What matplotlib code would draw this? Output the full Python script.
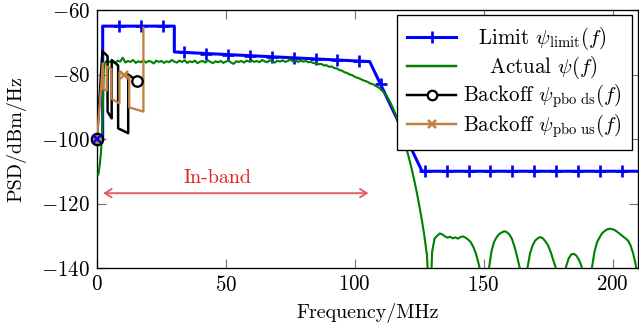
import numpy as np
import matplotlib
matplotlib.use("Agg")
import matplotlib.pyplot as plt
from matplotlib.lines import Line2D
from matplotlib.patches import FancyArrowPatch

plt.rcParams['font.family'] = 'serif'
plt.rcParams['font.serif'] = ['cmr10']
plt.rcParams['mathtext.fontset'] = 'cm'
plt.rcParams['axes.formatter.use_mathtext'] = True
plt.rcParams['font.size'] = 10.5

# ---------------- data ----------------
# Limit mask breakpoints (MHz, dBm/Hz)
limit_freq = [0.0, 2.2, 2.2, 30.0, 30.0, 105.8, 126.1, 212.0]
limit_psd = [-100.0, -100.0, -65.0, -65.0, -73.0, -76.0, -110.0, -110.0]
# Limit marker positions
limit_mark_freq = [0.0, 8.48, 16.96, 25.44, 33.92, 42.4, 50.88, 59.36, 67.84, 76.32,
                   84.8, 93.28, 101.76, 110.24, 118.72, 127.2, 135.68, 144.16, 152.64,
                   161.12, 169.6, 178.08, 186.56, 195.04, 203.52]
limit_mark_psd = [-100.0, -65.0, -65.0, -65.0, -73.15, -73.5, -73.8, -74.15, -74.5, -74.8,
                  -75.15, -75.5, -75.85, -83.1, -97.5, -110.0, -110.0, -110.0, -110.0,
                  -110.0, -110.0, -110.0, -110.0, -110.0, -110.0]

# Actual PSD
actual_freq = [0.5, 1.0, 1.5, 2.0, 2.3, 2.6,
               3, 4, 5, 6, 7, 8, 9, 10, 11, 12, 13, 14, 15, 16, 17, 18, 19, 20,
               21, 22, 23, 24, 25, 26, 27, 28, 29, 30, 31, 32, 33, 34, 35, 36, 37, 38,
               39, 40, 41, 42, 43, 44, 45, 46, 47, 48, 49, 50, 51, 52, 53, 54, 55, 56,
               57, 58, 59, 60, 61, 62, 63, 64, 65, 66, 67, 68, 69, 70, 71, 72, 73, 74,
               75, 76, 77, 78, 79, 80, 81, 82, 83, 84, 85, 86, 87, 88, 89, 90, 91, 92,
               93, 94, 95, 96, 97, 98, 99, 100, 101, 102, 103, 104, 105, 106, 107, 108,
               109, 110, 111, 112, 113, 114, 115, 116, 117, 118, 119, 120, 121, 122,
               123, 124, 125, 126, 127, 128, 129.2,
               130, 131, 132, 133, 134, 135, 136, 137, 138, 139, 140, 141, 142, 143,
               144, 145, 146, 147, 148, 149, 150,
               151, 152, 153, 154, 155, 156, 157, 158, 159, 160, 161, 162, 163, 164, 165,
               167, 168, 169, 170, 171, 172, 173, 174, 175, 176, 177, 178, 179,
               181, 182, 183, 184, 185, 186, 187, 188, 189,
               191, 192, 193, 194, 195, 196, 197, 198, 199, 200, 201, 202, 203, 204,
               205, 206, 207, 208, 209, 210]
actual_psd = [-111.0, -108.5, -104.5, -98.0, -88.0, -79.0,
              -76.4, -75.6, -76.2, -75.9, -76.5, -75.7, -76.0, -74.8, -76.3, -75.8,
              -76.1, -75.5, -76.4, -75.9, -76.2, -75.6, -76.3, -75.8,
              -76.0, -76.6, -75.7, -76.1, -75.8, -76.4, -75.9, -76.2, -75.5, -76.0,
              -76.3, -75.7, -76.1, -75.6, -76.4, -75.9, -76.2, -75.7,
              -76.5, -76.0, -75.8, -76.3, -75.6, -76.1, -76.5, -75.9, -76.2, -75.8,
              -76.4, -76.0, -75.7, -76.3, -76.7, -75.9, -76.1, -75.8,
              -76.3, -75.7, -76.0, -75.6, -76.1, -75.8, -76.2, -75.5, -75.9, -76.2,
              -75.6, -75.9, -76.3, -75.7, -76.0, -75.6, -76.1, -75.8,
              -75.4, -75.9, -75.6, -76.1, -75.7, -76.0, -75.8, -76.2, -76.1, -76.5,
              -76.4, -76.8, -76.7, -77.2, -77.1, -77.6, -77.5, -78.0,
              -78.1, -78.6, -78.8, -79.3, -79.5, -80.0, -80.2, -80.7, -81.0, -81.3,
              -81.7, -82.0, -82.3, -82.8, -83.0, -83.5,
              -83.9, -84.5, -85.3, -86.3, -87.5, -89.0, -90.8, -92.8, -95.0, -97.5,
              -100.0, -102.8, -105.8, -109.0,
              -112.5, -116.3, -120.5, -125.0, -130.0, -136.0, -155.0,
              -135.0, -130.8, -130.0, -129.3, -129.6, -130.2, -130.6, -130.3, -130.8,
              -130.5, -130.9, -130.4, -130.2, -130.6,
              -131.2, -132.0, -133.5, -135.5, -138.5, -142.0, -152.0,
              -150.0, -140.5, -135.0, -132.0, -130.5, -129.5, -129.0, -128.6, -128.9,
              -129.6, -131.0, -133.5, -136.5, -140.0, -152.0,
              -140.0, -135.5, -133.0, -131.5, -130.8, -130.4, -130.8, -131.8, -133.0,
              -135.0, -137.5, -140.0, -152.0,
              -150.0, -139.5, -137.0, -135.8, -135.6, -136.2, -137.5, -139.5, -150.0,
              -150.0, -140.0, -135.0, -132.0, -130.5, -129.2, -128.5, -128.0, -127.8,
              -128.0, -128.3, -128.9, -129.5, -130.2,
              -130.8, -131.5, -133.0, -135.5, -139.0, -145.0]

# Backoff downstream
ds_freq = [0.0, 2.1, 4.1, 4.1, 5.7, 5.7, 8.2, 8.2, 12.1, 12.1, 15.6]
ds_psd = [-100.0, -72.8, -74.3, -91.5, -93.6, -75.5, -77.2, -96.7, -98.2, -80.0, -82.0]
ds_mark_freq = [0.0, 15.6]
ds_mark_psd = [-100.0, -82.0]

# Backoff upstream
us_freq = [0.0, 2.3, 2.3, 3.8, 3.8, 5.6, 5.6, 8.7, 8.7, 12.5, 12.5, 18.0, 18.0]
us_psd = [-100.0, -76.5, -84.5, -85.0, -77.5, -78.3, -87.5, -89.0, -79.3, -80.8,
          -90.2, -91.5, -65.5]
us_mark_freq = [0.0, 10.4]
us_mark_psd = [-100.0, -80.0]

x_ticks = [0, 50, 100, 150, 200]
y_ticks = [-140, -120, -100, -80, -60]

# in-band annotation
inband_start, inband_end, inband_level = 2.4, 105.3, -116.8

# ---------------- plot ----------------
BLUE = '#0000ff'
GREEN = '#008000'
BROWN = '#bf8040'
RED = '#e02020'

fig = plt.figure(figsize=(639 / 137, 329 / 137), dpi=137)
ax = fig.add_axes([97 / 639, 1 - 268 / 329, (638.3 - 97) / 639, 258 / 329])

ax.plot(limit_freq, limit_psd, color=BLUE, lw=1.6, zorder=2)
ax.plot(limit_mark_freq[1:], limit_mark_psd[1:], ls='none', marker='+', ms=6.5,
        mew=1.4, color=BLUE, zorder=2)
ax.plot(actual_freq, actual_psd, color=GREEN, lw=1.1, zorder=3)
ax.plot(ds_freq, ds_psd, color='black', lw=1.3, zorder=4)
ax.plot(ds_mark_freq[1:], ds_mark_psd[1:], ls='none', marker='o', ms=5.5, mew=1.2,
        mfc='white', mec='black', zorder=6)
ax.plot(us_freq, us_psd, color=BROWN, lw=1.2, zorder=5)
ax.plot(us_mark_freq[1:], us_mark_psd[1:], ls='none', marker='x', ms=4, mew=1.3,
        color=BROWN, zorder=6)
# overlapping start markers at origin point
ax.plot(ds_mark_freq[:1], ds_mark_psd[:1], ls='none', marker='o', ms=6, mew=1.2,
        mfc=BROWN, mec='black', zorder=7, clip_on=False)
ax.plot(limit_mark_freq[:1], limit_mark_psd[:1], ls='none', marker='x', ms=4, mew=1.2,
        color=BLUE, zorder=8, clip_on=False)

arrow = FancyArrowPatch((inband_start, inband_level), (inband_end, inband_level),
                        arrowstyle='<->,head_length=0.35,head_width=0.22',
                        mutation_scale=10, color='#e06060', lw=1.0, zorder=3,
                        shrinkA=0, shrinkB=0)
ax.add_patch(arrow)
ax.text(46.8, -112.2, 'In-band', color=RED, ha='center', va='center', fontsize=10.5)

ax.set_xlim(0, 210)
ax.set_ylim(-140, -60)
ax.set_xticks(x_ticks)
ax.set_yticks(y_ticks)
ax.tick_params(direction='in', top=True, right=True, length=4.5, width=0.6,
               color='0.45', pad=3.5, labelsize=11)
for s in ax.spines.values():
    s.set_linewidth(0.7)
ax.set_xlabel('Frequency/MHz', labelpad=4.5)
ax.set_ylabel('PSD/dBm/Hz', labelpad=8)

handles = [
    Line2D([], [], color=BLUE, lw=1.6, marker='+', ms=6.5, mew=1.4),
    Line2D([], [], color=GREEN, lw=1.3),
    Line2D([], [], color='black', lw=1.3, marker='o', ms=5, mew=1.2, mfc='white'),
    Line2D([], [], color=BROWN, lw=1.3, marker='x', ms=4, mew=1.3),
]
labels = [
    r'$\;\;\;$Limit $\psi_{\mathrm{limit}}(f)$',
    r'$\quad\;\,$Actual $\psi(f)$',
    r'Backoff $\psi_{\mathrm{pbo\ ds}}(f)$',
    r'Backoff $\psi_{\mathrm{pbo\ us}}(f)$',
]
leg = ax.legend(handles, labels, loc='upper right', bbox_to_anchor=(0.989, 0.981),
                borderaxespad=0, fancybox=False, framealpha=1, edgecolor='black',
                handlelength=2.35, handletextpad=0.32, labelspacing=0.08,
                borderpad=0.5, numpoints=1, fontsize=11)
leg.get_frame().set_linewidth(0.7)
leg.set_zorder(10)

fig.savefig('out.png', dpi=137)
